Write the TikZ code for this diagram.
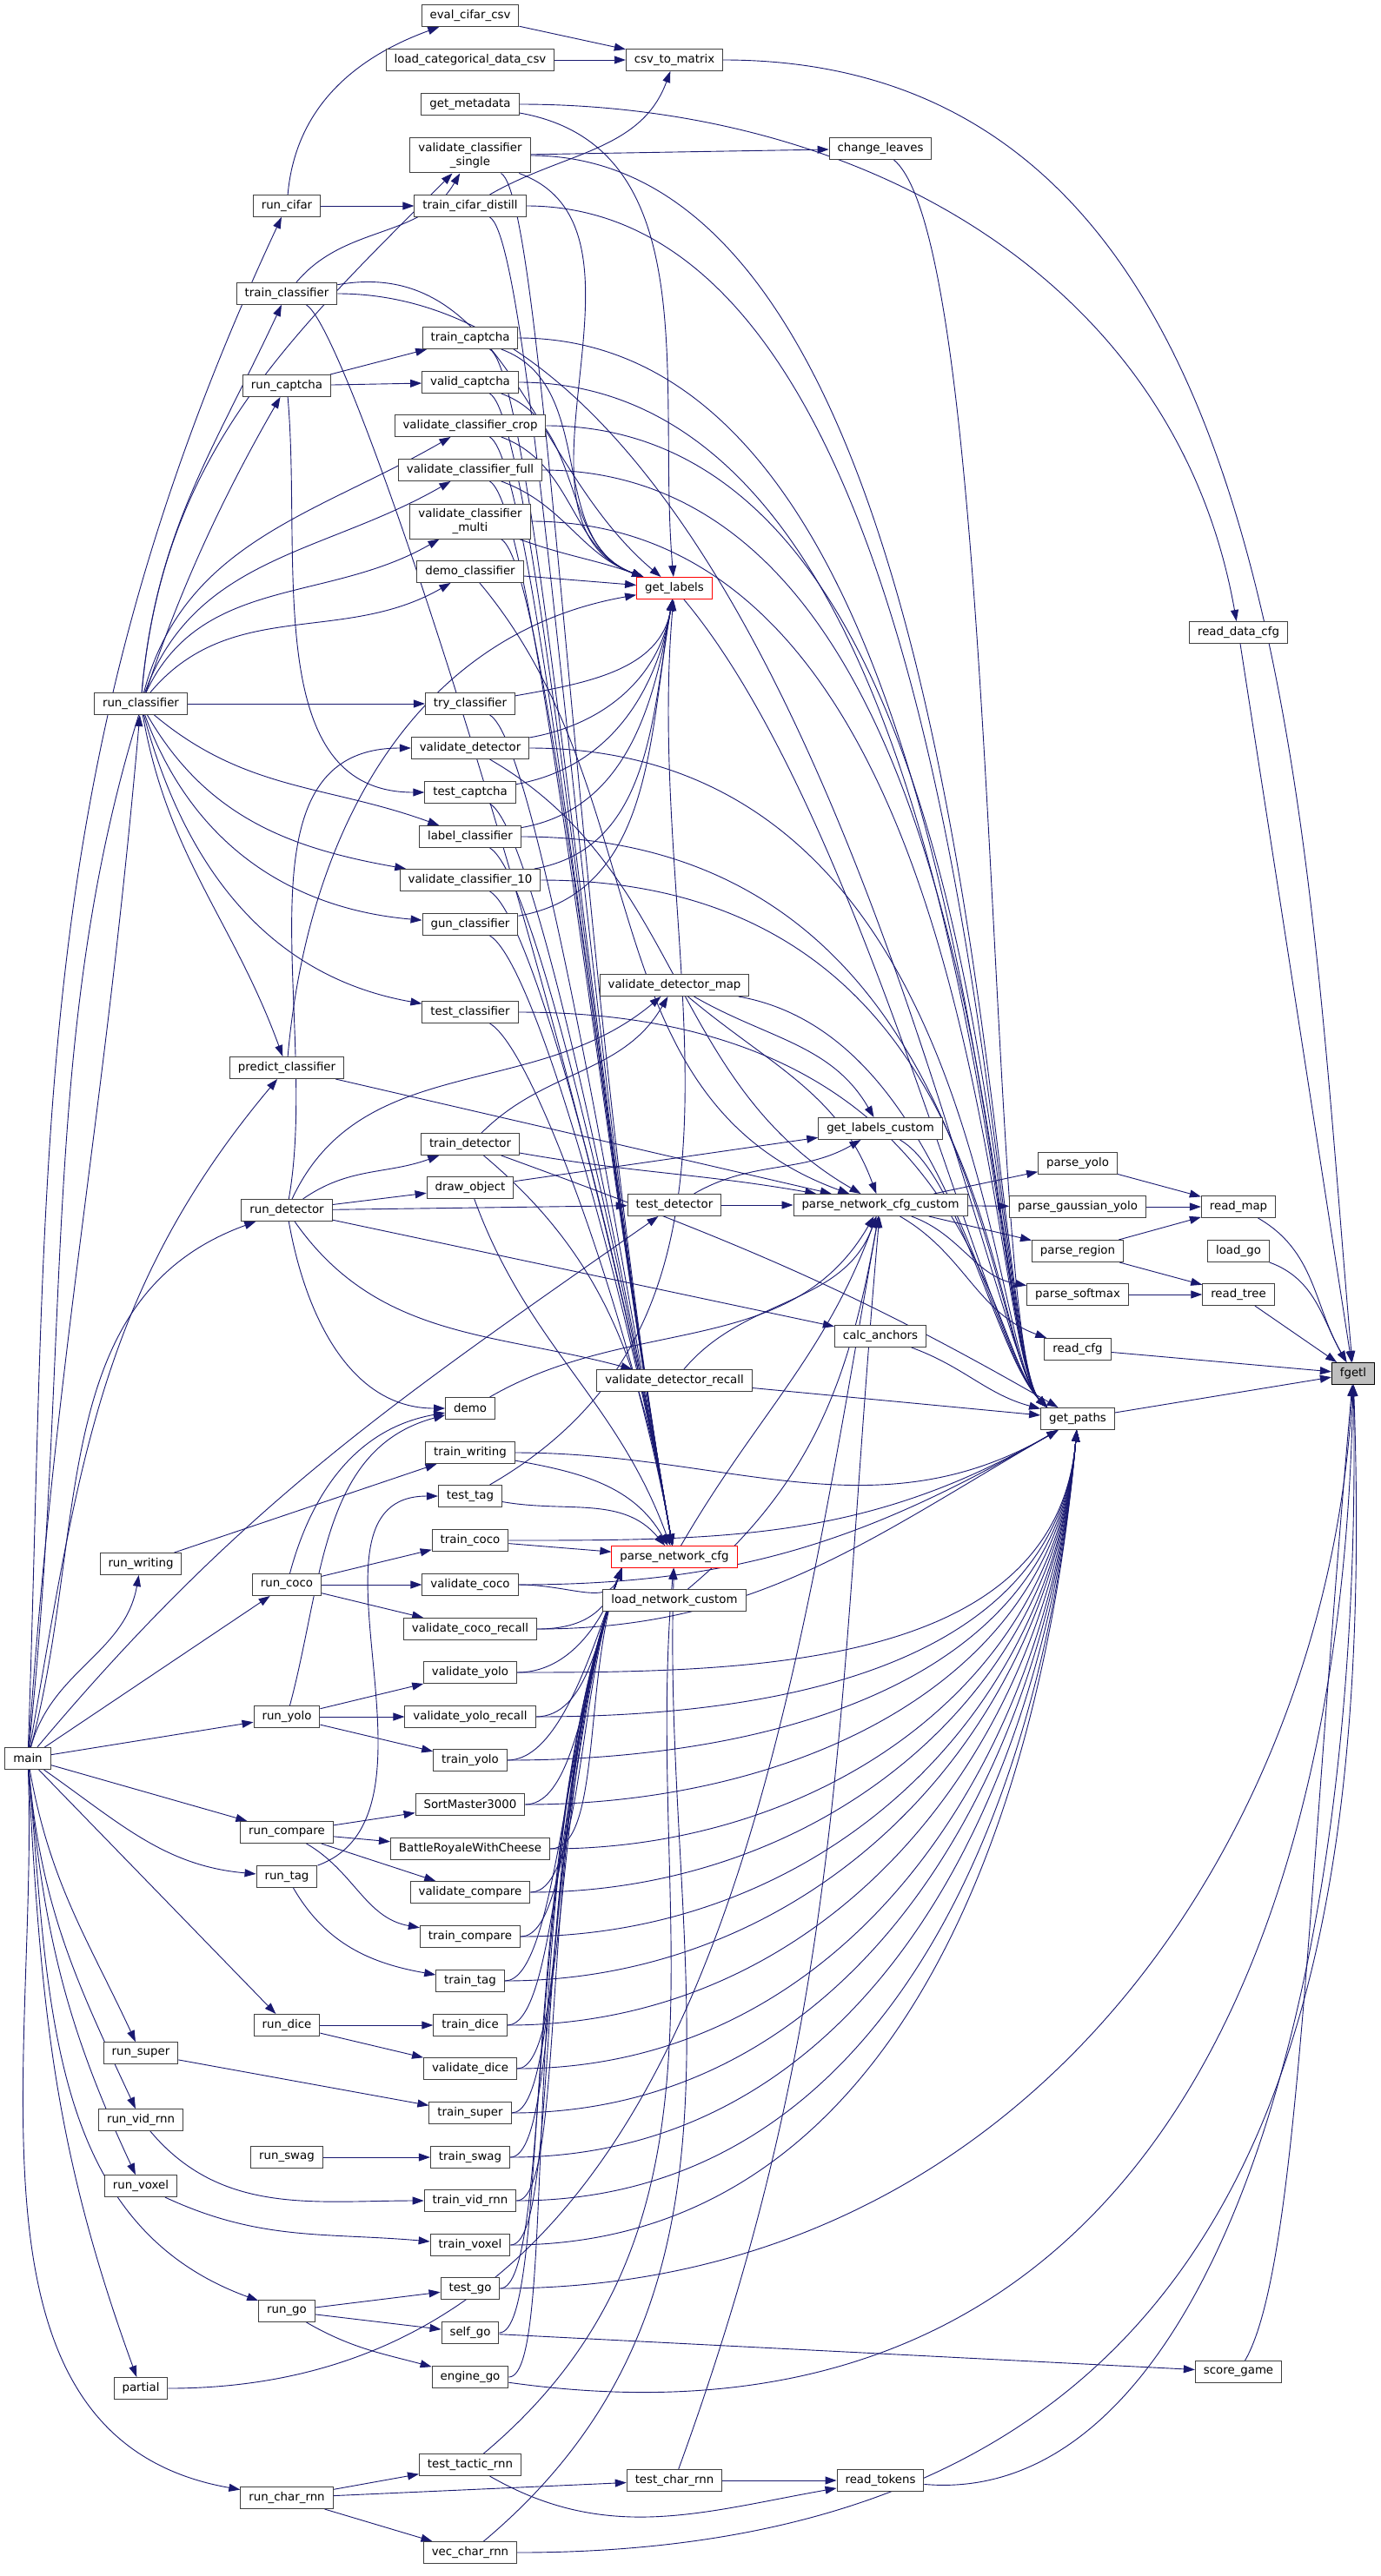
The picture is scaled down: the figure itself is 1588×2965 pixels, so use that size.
\documentclass[tikz,border=0pt]{standalone}
\usepackage{fontspec}
\setmainfont{DejaVu Sans}
\usetikzlibrary{arrows.meta,positioning,backgrounds}
\definecolor{edgeblue}{HTML}{191970}
\definecolor{boxgray}{HTML}{404040}
\definecolor{rootgray}{HTML}{BFBFBF}

\begin{document}
\begin{tikzpicture}
      [x=0.25pt, y=-0.25pt,
      node style1/.style={draw=boxgray, fill=white, rectangle, line width=0.25pt, minimum height=6.25pt, inner xsep=2.375pt, inner ysep=0pt, font=\fontsize{3.333}{3.875}\selectfont},
      node style2/.style={node style1, draw=red},
      node style3/.style={node style1, draw=black, fill=rootgray},
      node style4/.style={node style1, align=center, minimum height=10pt},
      edge style/.style={draw=edgeblue, line width=0.225pt, -{Triangle[length=3.25pt, width=2.25pt]}},
      ]
      \useasboundingbox (0,0) rectangle (1588,2965);

      % left columns
      \node[node style1] (main) at (32,2024) {main};
      \node[node style1] (runclassifier) at (162,810) {run\_classifier};
      \node[node style1] (runwriting) at (162,1800) {run\_writing};
      \node[node style1] (runsuper) at (162,2363) {run\_super};
      \node[node style1] (runvidrnn) at (162,2440) {run\_vid\_rnn};
      \node[node style1] (runvoxel) at (162,2516) {run\_voxel};
      \node[node style1] (partial) at (162,2749) {partial};
      \node[node style1] (runcifar) at (330,237) {run\_cifar};
      \node[node style1] (trainclassifier) at (330,338) {train\_classifier};
      \node[node style1] (runcaptcha) at (330,444) {run\_captcha};
      \node[node style1] (predictclassifier) at (330,1229) {predict\_classifier};
      \node[node style1] (rundetector) at (330,1393) {run\_detector};
      \node[node style1] (runcoco) at (330,1824) {run\_coco};
      \node[node style1] (runyolo) at (330,1976) {run\_yolo};
      \node[node style1] (runcompare) at (330,2109) {run\_compare};
      \node[node style1] (runtag) at (330,2160) {run\_tag};
      \node[node style1] (rundice) at (330,2331) {run\_dice};
      \node[node style1] (runswag) at (330,2483) {run\_swag};
      \node[node style1] (rungo) at (330,2660) {run\_go};
      \node[node style1] (runcharrnn) at (330,2875) {run\_char\_rnn};

      % middle column
      \node[node style1] (evalcifarcsv) at (541,18) {eval\_cifar\_csv};
      \node[node style1] (loadcategorical) at (541,69) {load\_categorical\_data\_csv};
      \node[node style1] (getmetadata) at (541,120) {get\_metadata};
      \node[node style4] (vcsingle) at (541,179) {validate\_classifier\\\_single};
      \node[node style1] (traincifardistill) at (541,237) {train\_cifar\_distill};
      \node[node style1] (traincaptcha) at (541,389) {train\_captcha};
      \node[node style1] (validcaptcha) at (541,440) {valid\_captcha};
      \node[node style1] (vccrop) at (541,490) {validate\_classifier\_crop};
      \node[node style1] (vcfull) at (541,541) {validate\_classifier\_full};
      \node[node style4] (vcmulti) at (541,600) {validate\_classifier\\\_multi};
      \node[node style1] (democlassifier) at (541,658) {demo\_classifier};
      \node[node style1] (tryclassifier) at (541,810) {try\_classifier};
      \node[node style1] (validatedetector) at (541,861) {validate\_detector};
      \node[node style1] (testcaptcha) at (541,912) {test\_captcha};
      \node[node style1] (labelclassifier) at (541,963) {label\_classifier};
      \node[node style1] (vcten) at (541,1013) {validate\_classifier\_10};
      \node[node style1] (gunclassifier) at (541,1064) {gun\_classifier};
      \node[node style1] (testclassifier) at (541,1165) {test\_classifier};
      \node[node style1] (traindetector) at (541,1317) {train\_detector};
      \node[node style1] (drawobject) at (541,1367) {draw\_object};
      \node[node style1] (demo) at (541,1621) {demo};
      \node[node style1] (trainwriting) at (541,1672) {train\_writing};
      \node[node style1] (testtag) at (541,1722) {test\_tag};
      \node[node style1] (traincoco) at (541,1773) {train\_coco};
      \node[node style1] (validatecoco) at (541,1824) {validate\_coco};
      \node[node style1] (validatecocorecall) at (541,1875) {validate\_coco\_recall};
      \node[node style1] (validateyolo) at (541,1925) {validate\_yolo};
      \node[node style1] (validateyolorecall) at (541,1976) {validate\_yolo\_recall};
      \node[node style1] (trainyolo) at (541,2026) {train\_yolo};
      \node[node style1] (sortmaster) at (541,2077) {SortMaster3000};
      \node[node style1] (battleroyale) at (541,2128) {BattleRoyaleWithCheese};
      \node[node style1] (validatecompare) at (541,2178) {validate\_compare};
      \node[node style1] (traincompare) at (541,2229) {train\_compare};
      \node[node style1] (traintag) at (541,2280) {train\_tag};
      \node[node style1] (traindice) at (541,2331) {train\_dice};
      \node[node style1] (validatedice) at (541,2381) {validate\_dice};
      \node[node style1] (trainsuper) at (541,2432) {train\_super};
      \node[node style1] (trainswag) at (541,2483) {train\_swag};
      \node[node style1] (trainvidrnn) at (541,2533) {train\_vid\_rnn};
      \node[node style1] (trainvoxel) at (541,2584) {train\_voxel};
      \node[node style1] (testgo) at (541,2634) {test\_go};
      \node[node style1] (selfgo) at (541,2685) {self\_go};
      \node[node style1] (enginego) at (541,2736) {engine\_go};
      \node[node style1] (testtacticrnn) at (541,2837) {test\_tactic\_rnn};
      \node[node style1] (vecchar) at (541,2938) {vec\_char\_rnn};

      % right columns
      \node[node style1] (csvtomatrix) at (776,69) {csv\_to\_matrix};
      \node[node style2] (getlabels) at (776,677) {get\_labels};
      \node[node style1] (validatedetectormap) at (776,1134) {validate\_detector\_map};
      \node[node style1] (testdetector) at (776,1387) {test\_detector};
      \node[node style1] (validatedetectorrecall) at (776,1589) {validate\_detector\_recall};
      \node[node style2] (parsenetworkcfg) at (776,1792) {parse\_network\_cfg};
      \node[node style1] (loadnetworkcustom) at (776,1842) {load\_network\_custom};
      \node[node style1] (testcharrnn) at (776,2855) {test\_char\_rnn};
      \node[node style1] (changeleaves) at (1013,171) {change\_leaves};
      \node[node style1] (getlabelscustom) at (1013,1299) {get\_labels\_custom};
      \node[node style1] (parsenetworkcfgcustom) at (1013,1387) {parse\_network\_cfg\_custom};
      \node[node style1] (calcanchors) at (1013,1538) {calc\_anchors};
      \node[node style1] (readtokens) at (1013,2855) {read\_tokens};
      \node[node style1] (parseyolo) at (1240,1339) {parse\_yolo};
      \node[node style1] (parsegaussianyolo) at (1240,1389) {parse\_gaussian\_yolo};
      \node[node style1] (parseregion) at (1240,1440) {parse\_region};
      \node[node style1] (parsesoftmax) at (1240,1490) {parse\_softmax};
      \node[node style1] (readcfg) at (1240,1553) {read\_cfg};
      \node[node style1] (getpaths) at (1240,1633) {get\_paths};
      \node[node style1] (readdatacfg) at (1425,728) {read\_data\_cfg};
      \node[node style1] (readmap) at (1425,1389) {read\_map};
      \node[node style1] (loadgo) at (1425,1440) {load\_go};
      \node[node style1] (readtree) at (1425,1490) {read\_tree};
      \node[node style1] (scoregame) at (1425,2730) {score\_game};
      \node[node style3] (fgetl) at (1557,1581) {fgetl};

      \begin{pgfonlayer}{background}
      \fill[white] (0,0) rectangle (1588,2965);

      % calls from main
      \draw[edge style] (main) to[out=88,in=-115] (runcifar);
      \draw[edge style] (main) to[out=86,in=-95] (runclassifier);
      \draw[edge style] (main) to[out=84,in=-120] (runcaptcha);
      \draw[edge style] (main) to[out=80,in=-130] (predictclassifier);
      \draw[edge style] (main) to[out=75,in=-160] (rundetector);
      \draw[edge style] (main) to[out=50,in=-145] (testdetector);
      \draw[edge style] (main) to[out=75,in=-100] (runwriting);
      \draw[edge style] (main) -- (runcoco);
      \draw[edge style] (main) -- (runyolo);
      \draw[edge style] (main) -- (runcompare);
      \draw[edge style] (main) to[out=-35,in=175] (runtag);
      \draw[edge style] (main) -- (rundice);
      \draw[edge style] (main) to[out=-80,in=115] (runsuper);
      \draw[edge style] (main) to[out=-85,in=115] (runvidrnn);
      \draw[edge style] (main) to[out=-85,in=115] (runvoxel);
      \draw[edge style] (main) to[out=-85,in=160] (rungo);
      \draw[edge style] (main) to[out=-87,in=110] (partial);
      \draw[edge style] (main) to[out=-88,in=170] (runcharrnn);

      % run_* to their tasks
      \draw[edge style] (runcifar) to[out=85,in=200] (evalcifarcsv);
      \draw[edge style] (runcifar) -- (traincifardistill);
      \draw[edge style] (evalcifarcsv) -- (csvtomatrix);
      \draw[edge style] (loadcategorical) -- (csvtomatrix);
      \draw[edge style] (traincifardistill) to[out=30,in=-110] (csvtomatrix);
      \draw[edge style] (runclassifier) to[out=85,in=-135] (vcsingle);
      \draw[edge style] (runclassifier) to[out=85,in=-115] (trainclassifier);
      \draw[edge style] (runclassifier) to[out=75,in=-150] (vccrop);
      \draw[edge style] (runclassifier) to[out=70,in=-150] (vcfull);
      \draw[edge style] (runclassifier) to[out=65,in=-150] (vcmulti);
      \draw[edge style] (runclassifier) to[out=50,in=-150] (democlassifier);
      \draw[edge style] (runclassifier) -- (tryclassifier);
      \draw[edge style] (runclassifier) to[out=-40,in=160] (labelclassifier);
      \draw[edge style] (runclassifier) to[out=-60,in=170] (vcten);
      \draw[edge style] (runclassifier) to[out=-70,in=175] (gunclassifier);
      \draw[edge style] (runclassifier) to[out=-75,in=170] (testclassifier);
      \draw[edge style] (runclassifier) to[out=-80,in=110] (predictclassifier);
      \draw[edge style] (trainclassifier) to[out=50,in=-120] (vcsingle);
      \draw[edge style] (runcaptcha) -- (traincaptcha);
      \draw[edge style] (runcaptcha) -- (validcaptcha);
      \draw[edge style] (runcaptcha) to[out=-85,in=180] (testcaptcha);
      \draw[edge style] (rundetector) to[out=80,in=180] (validatedetector);
      \draw[edge style] (rundetector) to[out=65,in=-140] (validatedetectormap);
      \draw[edge style] (rundetector) to[out=35,in=-160] (traindetector);
      \draw[edge style] (rundetector) -- (drawobject);
      \draw[edge style] (rundetector) -- (testdetector);
      \draw[edge style] (rundetector) to[out=-80,in=180] (demo);
      \draw[edge style] (rundetector) to[out=-55,in=165] (validatedetectorrecall);
      \draw[edge style] (rundetector) -- (calcanchors);
      \draw[edge style] (runcoco) to[out=75,in=190] (demo);
      \draw[edge style] (runcoco) -- (traincoco);
      \draw[edge style] (runcoco) -- (validatecoco);
      \draw[edge style] (runcoco) -- (validatecocorecall);
      \draw[edge style] (runyolo) to[out=75,in=195] (demo);
      \draw[edge style] (runyolo) -- (validateyolo);
      \draw[edge style] (runyolo) -- (validateyolorecall);
      \draw[edge style] (runyolo) -- (trainyolo);
      \draw[edge style] (runwriting) -- (trainwriting);
      \draw[edge style] (runtag) to[out=20,in=180] (testtag);
      \draw[edge style] (runtag) to[out=-60,in=170] (traintag);
      \draw[edge style] (runcompare) -- (sortmaster);
      \draw[edge style] (runcompare) -- (battleroyale);
      \draw[edge style] (runcompare) -- (validatecompare);
      \draw[edge style] (runcompare) to[out=-30,in=170] (traincompare);
      \draw[edge style] (rundice) -- (traindice);
      \draw[edge style] (rundice) -- (validatedice);
      \draw[edge style] (runsuper) -- (trainsuper);
      \draw[edge style] (runswag) -- (trainswag);
      \draw[edge style] (runvidrnn) to[out=-50,in=180] (trainvidrnn);
      \draw[edge style] (runvoxel) to[out=-25,in=175] (trainvoxel);
      \draw[edge style] (rungo) -- (testgo);
      \draw[edge style] (rungo) -- (selfgo);
      \draw[edge style] (rungo) to[out=-30,in=165] (enginego);
      \draw[edge style] (runcharrnn) -- (testtacticrnn);
      \draw[edge style] (runcharrnn) -- (testcharrnn);
      \draw[edge style] (runcharrnn) -- (vecchar);

      % get_labels
      \draw[edge style] (getmetadata) to[out=-10,in=95] (getlabels);
      \foreach \a in {vcsingle, traincaptcha, validcaptcha, vccrop, vcfull, vcmulti}
        \draw[edge style] (\a) to[out=-20,in=160] (getlabels);
      \draw[edge style] (democlassifier) -- (getlabels);
      \draw[edge style] (trainclassifier) to[out=10,in=140] (getlabels);
      \draw[edge style] (predictclassifier) to[out=85,in=190] (getlabels);
      \foreach \a in {tryclassifier, validatedetector, testcaptcha, labelclassifier, vcten, gunclassifier}
        \draw[edge style] (\a) to[out=10,in=-100] (getlabels);
      \draw[edge style] (testtag) to[out=30,in=-95] (getlabels);

      % parse_network_cfg
      \foreach \a in {vcsingle, traincifardistill, trainclassifier, traincaptcha, validcaptcha, vccrop, vcfull, vcmulti, tryclassifier, testcaptcha, labelclassifier, vcten, gunclassifier, testclassifier}
        \draw[edge style] (\a) to[out=-30,in=100,out distance=15pt] (parsenetworkcfg);
      \draw[edge style] (traindetector) to[out=-40,in=100] (parsenetworkcfg);
      \draw[edge style] (drawobject) to[out=-70,in=110] (parsenetworkcfg);
      \draw[edge style] (trainwriting) to[out=-10,in=120] (parsenetworkcfg);
      \draw[edge style] (testtag) to[out=-10,in=130] (parsenetworkcfg);
      \draw[edge style] (traincoco) -- (parsenetworkcfg);
      \foreach \a in {validatecoco, validatecocorecall, validateyolo, validateyolorecall, trainyolo, sortmaster, battleroyale, validatecompare, traincompare, traintag, traindice, validatedice, trainsuper, trainswag, trainvidrnn, trainvoxel, testgo, selfgo, enginego}
        \draw[edge style] (\a) to[out=0,in=-110,out distance=15pt] ([xshift=3pt]parsenetworkcfg.south west);
      \draw[edge style] (testtacticrnn) to[out=40,in=-95] (parsenetworkcfg);
      \draw[edge style] (vecchar) to[out=40,in=-92] (parsenetworkcfg);

      % parse_network_cfg_custom
      \draw[edge style] (parsenetworkcfg) to[out=60,in=-110] (parsenetworkcfgcustom);
      \draw[edge style] (loadnetworkcustom) to[out=40,in=-100] (parsenetworkcfgcustom);
      \draw[edge style] (testdetector) -- (parsenetworkcfgcustom);
      \draw[edge style] (validatedetectormap) to[out=-40,in=110] (parsenetworkcfgcustom);
      \draw[edge style] (traindetector) to[out=-10,in=170] (parsenetworkcfgcustom);
      \draw[edge style] (validatedetector) to[out=-30,in=150] (parsenetworkcfgcustom);
      \draw[edge style] (validatedetectorrecall) to[out=50,in=-110] (parsenetworkcfgcustom);
      \draw[edge style] (demo) to[out=30,in=-120] (parsenetworkcfgcustom);
      \draw[edge style] (partial) to[out=0,in=-100] (parsenetworkcfgcustom);
      \draw[edge style] (testcharrnn) to[out=70,in=-95] (parsenetworkcfgcustom);
      \draw[edge style] (predictclassifier) -- (parsenetworkcfgcustom);
      \draw[edge style] (democlassifier) to[out=-50,in=160] (parsenetworkcfgcustom);
      \draw[edge style] (parsenetworkcfgcustom) -- (parseyolo);
      \draw[edge style] (parsenetworkcfgcustom) -- (parsegaussianyolo);
      \draw[edge style] (parsenetworkcfgcustom) -- (parseregion);
      \draw[edge style] (parsenetworkcfgcustom) to[out=-20,in=170] (parsesoftmax);
      \draw[edge style] (parsenetworkcfgcustom) to[out=-30,in=160] (readcfg);

      % get_labels_custom and detector helpers
      \draw[edge style] (testdetector) to[out=30,in=-150] (getlabelscustom);
      \draw[edge style] (validatedetectormap) to[out=-30,in=120] (getlabelscustom);
      \draw[edge style] (drawobject) -- (getlabelscustom);
      \draw[edge style] (traindetector) to[out=45,in=-120] (validatedetectormap);
      \draw[edge style] (vcsingle) -- (changeleaves);

      % get_paths
      \draw[edge style] (getlabels) to[out=-50,in=135,out distance=80pt,in distance=25pt] ([xshift=2pt]getpaths.north west);
      \draw[edge style] (getlabelscustom) to[out=-30,in=135,out distance=20pt,in distance=20pt] ([xshift=2pt]getpaths.north west);
      \draw[edge style] (changeleaves) to[out=-40,in=135,out distance=40pt,in distance=25pt] ([xshift=2pt]getpaths.north west);
      \draw[edge style] (calcanchors) to[out=-20,in=165] (getpaths);
      \draw[edge style] (validatedetectormap) to[out=-10,in=135,out distance=60pt,in distance=25pt] ([xshift=2pt]getpaths.north west);
      \draw[edge style] (traindetector) to[out=-20,in=150] (getpaths);
      \draw[edge style] (validatedetectorrecall) -- (getpaths);
      \foreach \a in {vcsingle, traincifardistill, trainclassifier, traincaptcha, validcaptcha, vccrop, vcfull, vcmulti, validatedetector, labelclassifier, vcten, testclassifier}
        \draw[edge style] (\a) to[out=0,in=135,out distance=132pt,in distance=25pt] ([xshift=2pt]getpaths.north west);
      \foreach \a in {trainwriting, traincoco, validatecoco, validatecocorecall}
        \draw[edge style] (\a) to[out=0,in=-150] (getpaths);
      \foreach \a in {validateyolo, validateyolorecall, trainyolo, sortmaster, battleroyale, validatecompare, traincompare, traintag, traindice, validatedice, trainsuper, trainswag, trainvidrnn, trainvoxel}
        \draw[edge style] (\a) to[out=0,in=-95] (getpaths);

      % read_* helpers and fgetl
      \draw[edge style] (getmetadata) to[out=0,in=100] (readdatacfg);
      \draw[edge style] (parseyolo) -- (readmap);
      \draw[edge style] (parsegaussianyolo) -- (readmap);
      \draw[edge style] (parseregion) -- (readmap);
      \draw[edge style] (parseregion) -- (readtree);
      \draw[edge style] (parsesoftmax) -- (readtree);
      \draw[edge style] (testcharrnn) -- (readtokens);
      \draw[edge style] (testtacticrnn) to[out=-30,in=190] (readtokens);
      \draw[edge style] (selfgo) -- (scoregame);
      \draw[edge style] (csvtomatrix) to[out=0,in=95] (fgetl);
      \draw[edge style] (readdatacfg) -- (fgetl);
      \draw[edge style] (readmap) to[out=-30,in=120] (fgetl);
      \draw[edge style] (loadgo) to[out=-20,in=120] (fgetl);
      \draw[edge style] (readtree) -- (fgetl);
      \draw[edge style] (readcfg) -- (fgetl);
      \draw[edge style] (getpaths) -- (fgetl);
      \draw[edge style] (scoregame) to[out=60,in=-95,out distance=30pt,in distance=150pt] (fgetl);
      \draw[edge style] (testgo) to[out=0,in=-93,out distance=156pt,in distance=125pt] (fgetl);
      \draw[edge style] (enginego) to[out=-8,in=-91,out distance=190pt,in distance=150pt] (fgetl);
      \draw[edge style] (readtokens) to[out=-5,in=-89,out distance=80pt,in distance=180pt] (fgetl);
      \draw[edge style] (vecchar) to[out=0,in=-88,out distance=214pt,in distance=180pt] (fgetl);
      \end{pgfonlayer}
    \end{tikzpicture}
\end{document}
